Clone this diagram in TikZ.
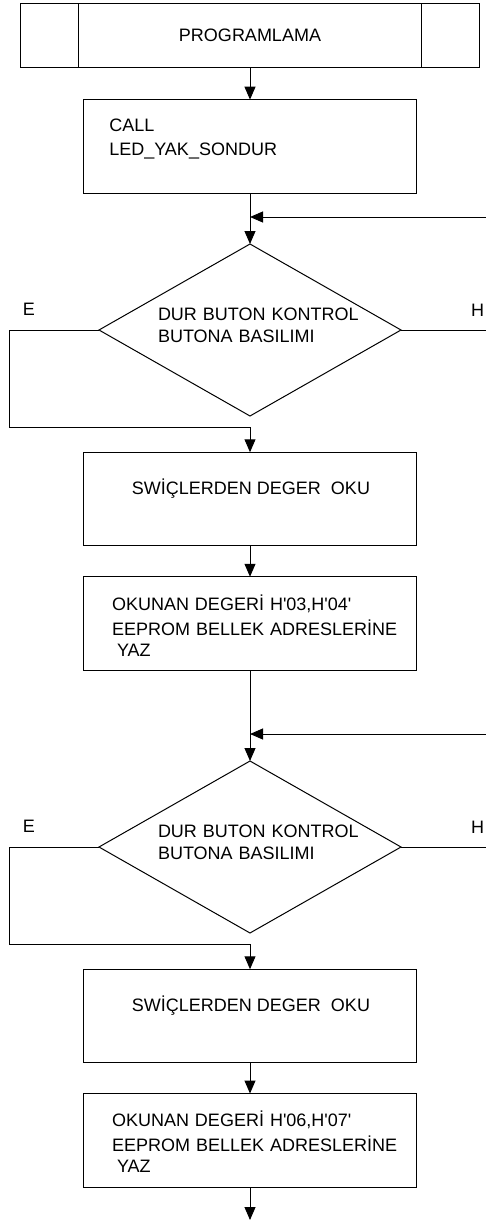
\documentclass[tikz,border=0pt]{standalone}
\usepackage{fontspec}
\setmainfont{Liberation Sans}
\usetikzlibrary{arrows.meta,shapes.geometric}
\begin{document}
\begin{tikzpicture}[x=1pt,y=-1pt,
  line width=1pt,
  font=\fontsize{18}{24.5}\selectfont,
  flow/.style={draw,-{Triangle[length=13pt,width=11pt]}},
  wire/.style={draw},
  procbox/.style={draw,rectangle,inner sep=0pt,outer sep=0pt,
    minimum width=333.5pt,minimum height=93.5pt},
  decbox/.style={draw,diamond,inner sep=0pt,outer sep=0pt,
    minimum width=302pt,minimum height=172pt},
  txt/.style={inner sep=0pt,outer sep=0pt,anchor=base west},
  mtxt/.style={txt,text width=300pt,align=left},
  ctxt/.style={inner sep=0pt,outer sep=0pt,anchor=base}]
\useasboundingbox (0,0) rectangle (486,1223);

% start block (predefined process)
\node[draw,rectangle,inner sep=0pt,outer sep=0pt,
  minimum width=459.3pt,minimum height=64.4pt] (start) at (250,35.5) {};
\draw ([xshift=58pt]start.north west) -- ([xshift=58pt]start.south west);
\draw ([xshift=-58pt]start.north east) -- ([xshift=-58pt]start.south east);
\node[ctxt] (startlbl) at (250,41.3) {PROGRAMLAMA};

% call block
\node[procbox] (call) at (250,146.4) {};
\node[mtxt] (calllbl) at (109.3,131.5) {CALL\\[-1pt]LED\_YAK\_SONDUR};

% first check
\coordinate (j1) at (250,217);
\coordinate (fb1) at (486,217);
\node[decbox] (dec1) at (250,330) {};
\node[mtxt] (dec1lbl) at (158,320) {DUR BUTON KONTROL\\[-2.5pt]BUTONA BASILIMI};
\node[txt] (e1) at (23,315) {E};
\node[txt] (h1) at (471,316) {H};
\coordinate (l1) at (9,427);
\coordinate (r1) at (486,330);

\node[procbox] (read1) at (250,499) {};
\node[ctxt] (read1lbl) at (251,494) {SWİÇLERDEN DEGER~ OKU};
\node[procbox] (write1) at (250,623.5) {};
\node[mtxt] (write1lbl) at (112,610.5)
  {OKUNAN DEGERİ H\textquotesingle 03,H\textquotesingle 04\textquotesingle\\
   EEPROM BELLEK ADRESLERİNE\\[-3pt]\hspace*{5pt}YAZ};

% second check
\coordinate (j2) at (250,734);
\coordinate (fb2) at (486,734);
\node[decbox] (dec2) at (250,847) {};
\node[mtxt] (dec2lbl) at (158,837) {DUR BUTON KONTROL\\[-2.5pt]BUTONA BASILIMI};
\node[txt] (e2) at (23,832) {E};
\node[txt] (h2) at (471,833) {H};
\coordinate (l2) at (9,944);
\coordinate (r2) at (486,847);

\node[procbox] (read2) at (250,1016) {};
\node[ctxt] (read2lbl) at (251,1011) {SWİÇLERDEN DEGER~ OKU};
\node[procbox] (write2) at (250,1140.25) {};
\node[mtxt] (write2lbl) at (112,1126.7)
  {OKUNAN DEGERİ H\textquotesingle 06,H\textquotesingle 07\textquotesingle\\
   EEPROM BELLEK ADRESLERİNE\\[-3pt]\hspace*{5pt}YAZ};
\coordinate (end) at (250,1220);

% connectors
\draw[flow] (start.south) -- (call.north);
\draw[wire] (call.south) -- (j1);
\draw[flow] (fb1) -- (j1);
\draw[flow] (j1) -- (dec1.north);
\draw[flow] (dec1.west) -| (l1) -| (read1.north);
\draw[wire] (dec1.east) -- (r1);
\draw[flow] (read1.south) -- (write1.north);

\draw[wire] (write1.south) -- (j2);
\draw[flow] (fb2) -- (j2);
\draw[flow] (j2) -- (dec2.north);
\draw[flow] (dec2.west) -| (l2) -| (read2.north);
\draw[wire] (dec2.east) -- (r2);
\draw[flow] (read2.south) -- (write2.north);
\draw[flow] (write2.south) -- (end);
\end{tikzpicture}
\end{document}
